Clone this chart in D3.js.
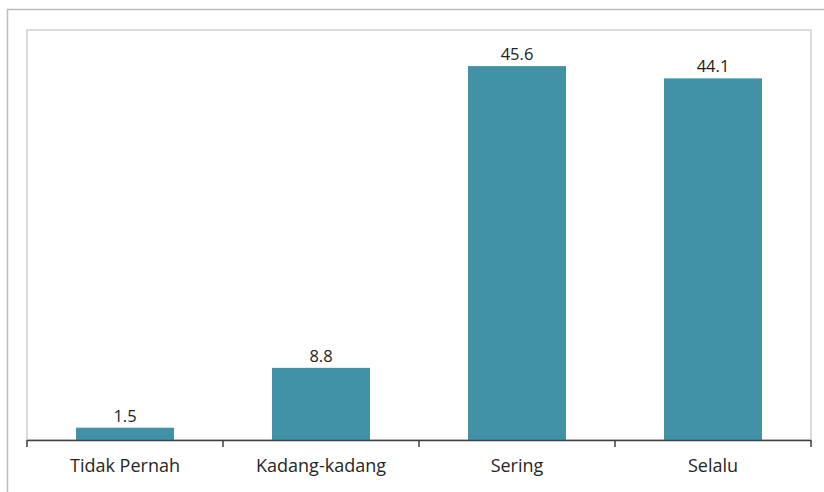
<!DOCTYPE html>
<html>
<head>
<meta charset="utf-8">
<script src="https://cdn.jsdelivr.net/npm/d3@7"></script>
<style>
  html, body { margin: 0; padding: 0; background: #fff; }
  svg { display: block; }
</style>
</head>
<body>
<svg id="chart" width="824" height="492"></svg>
<script>
// Frequency categories and their percentages
const categories = ["Tidak Pernah", "Kadang-kadang", "Sering", "Selalu"];
const values = [1.5, 8.8, 45.6, 44.1];
const valueLabels = ["1.5", "8.8", "45.6", "44.1"];

const svg = d3.select("#chart");
const W = 824, H = 492;
const plot = { left: 27, right: 811, top: 30, bottom: 440 };
const font = "'Open Sans', 'Noto Sans', sans-serif";

// Outer chart-area border
svg.append("rect")
  .attr("x", 7.5).attr("y", 9.5)
  .attr("width", W + 10).attr("height", H - 7)
  .attr("fill", "#fff")
  .attr("stroke", "#bdbdbd").attr("stroke-width", 1.5);

// Plot-area frame
svg.append("rect")
  .attr("x", plot.left).attr("y", plot.top)
  .attr("width", plot.right - plot.left).attr("height", plot.bottom - plot.top)
  .attr("fill", "#fff")
  .attr("stroke", "#dadada").attr("stroke-width", 2);

const x = d3.scaleBand()
  .domain(categories)
  .range([plot.left, plot.right])
  .paddingInner(0.5)
  .paddingOuter(0.25);

const y = d3.scaleLinear()
  .domain([0, 50])
  .range([plot.bottom, plot.top]);

const data = categories.map((c, i) => ({ c, v: values[i], label: valueLabels[i] }));

// Bars
svg.append("g").selectAll("rect")
  .data(data)
  .join("rect")
  .attr("x", d => x(d.c))
  .attr("y", d => y(d.v))
  .attr("width", x.bandwidth())
  .attr("height", d => y(0) - y(d.v))
  .attr("fill", "#4192a7");

// Value labels
svg.append("g").selectAll("text")
  .data(data)
  .join("text")
  .attr("x", d => x(d.c) + x.bandwidth() / 2)
  .attr("y", d => y(d.v) - 6)
  .attr("text-anchor", "middle")
  .attr("font-family", font)
  .attr("font-size", 16.5)
  .attr("font-weight", 500)
  .attr("fill", "#222")
  .text(d => d.label);

// Category axis with tick marks at band boundaries
const axisG = svg.append("g");
axisG.append("line")
  .attr("x1", plot.left).attr("x2", plot.right)
  .attr("y1", plot.bottom + 0.5).attr("y2", plot.bottom + 0.5)
  .attr("stroke", "#404040").attr("stroke-width", 1.5);

const boundaries = d3.range(categories.length + 1)
  .map(i => plot.left + i * (plot.right - plot.left) / categories.length);
axisG.selectAll("line.tick")
  .data(boundaries)
  .join("line")
  .attr("class", "tick")
  .attr("x1", d => d).attr("x2", d => d)
  .attr("y1", plot.bottom).attr("y2", plot.bottom + 7)
  .attr("stroke", "#404040").attr("stroke-width", 1.5);

axisG.selectAll("text")
  .data(categories)
  .join("text")
  .attr("x", d => x(d) + x.bandwidth() / 2)
  .attr("y", plot.bottom + 32)
  .attr("text-anchor", "middle")
  .attr("font-family", font)
  .attr("font-size", 18)
  .attr("font-weight", 500)
  .attr("fill", "#262626")
  .text(d => d);
</script>
</body>
</html>
